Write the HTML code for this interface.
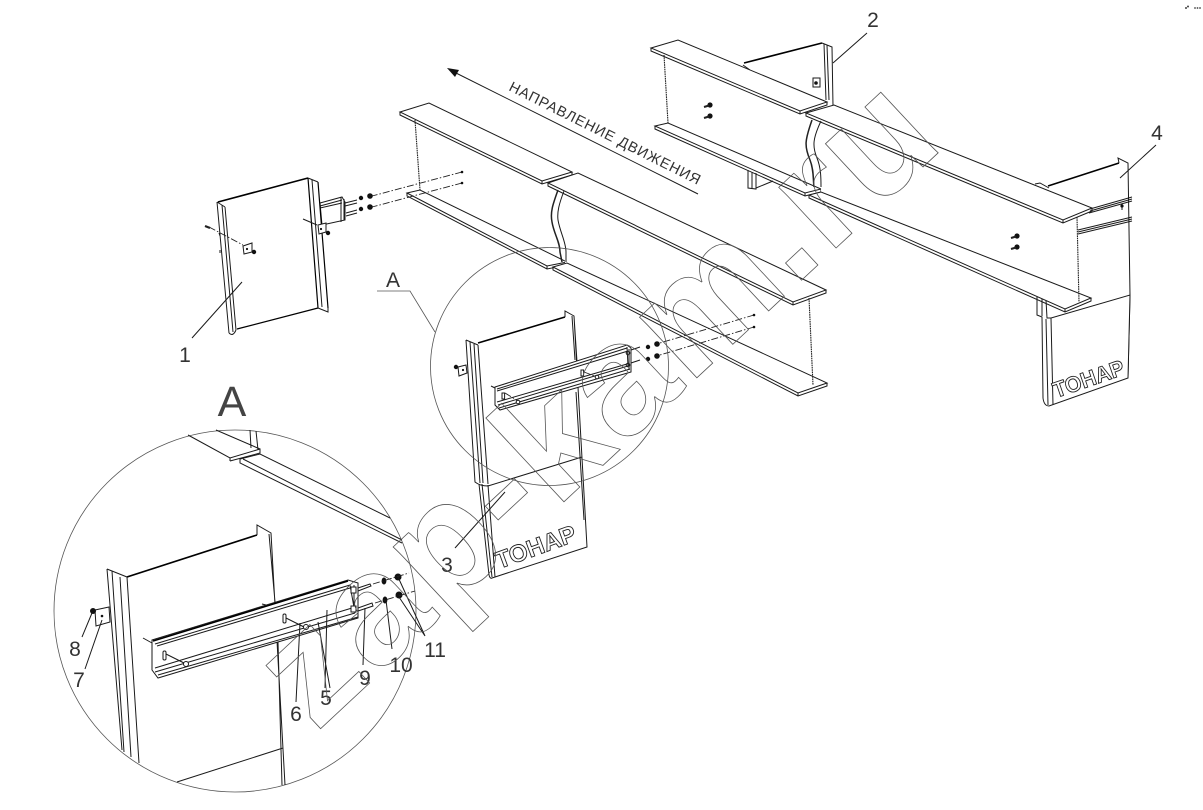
<!DOCTYPE html>
<html><head><meta charset="utf-8"><style>
html,body{margin:0;padding:0;background:#fff}
svg{display:block}
.l{fill:none;stroke:#1a1a1a;stroke-width:1}
.w{fill:#fff;stroke:#1a1a1a;stroke-width:1}
.b{fill:#fff;stroke:none}
.h{fill:none;stroke:#000;stroke-width:1.6}
.d{fill:none;stroke:#222;stroke-width:.9;stroke-dasharray:7 2 1.5 2}
.s{fill:none;stroke:#222;stroke-width:1.1;stroke-dasharray:1.6 .7}
.v{fill:none;stroke:#222;stroke-width:1.5}
.g{fill:none;stroke:#555;stroke-width:.8}
.n{fill:#111}
.t{font-family:"Liberation Sans",sans-serif;font-size:21px;fill:#333}
.m{font-family:"Liberation Sans",sans-serif;font-weight:bold;fill:#fff;stroke:#222;stroke-width:.9}
</style></head><body>
<svg width="1203" height="810" viewBox="0 0 1203 810" xmlns="http://www.w3.org/2000/svg">
<!-- panel 4 + mudflap (behind beam) -->
<path class="h" d="M1048 186L1119 163"/>
<path class="l" d="M1119 163L1118 158L1128 163L1130 295L1128 377M1035 184L1040 183L1049 188"/>
<path class="l" d="M1090 209L1132 197M1090 211L1132 199M1089 213L1132 201M1078 230L1132 217M1078 232L1132 219M1078 234L1132 221"/>
<path class="l" d="M1122 204V210"/><circle class="n" cx="1122" cy="206" r="1.6"/>
<path class="w" d="M1037 297L1037 315L1042 317L1043 398Q1044 406 1049 406L1128 378L1130 295L1051 318L1053 405M1042 299V316M1046 300L1047 318L1051 318M1046 319L1048 405"/>
<text class="m" font-size="22" transform="translate(1056 398) rotate(-19)" textLength="74" lengthAdjust="spacingAndGlyphs">ТОНАР</text>
<!-- rear panel 2 -->
<path class="h" d="M744 63L822 43"/>
<path class="l" d="M822 43L832 47L833 106M824 44L826 100M827 45L829 100M743 65L750 70"/>
<rect class="w" x="813" y="78" width="7" height="9"/><circle class="n" cx="816" cy="83" r="1.8"/>
<path class="w" d="M748 170V188L756 189V173M752 172V188M756 188L773 181"/>
<!-- beam 2 section A -->
<path class="b" d="M664 55L668 123L805 192L821 189L822 110L800 111Z"/>
<path class="w" d="M651 48L678 40L827 102L800 111Z"/>
<path class="l" d="M651 48V51L800 114L827 105V102M800 111V114"/>
<path class="s" d="M664 55L668 123"/>
<path class="w" d="M655 126L668 123L821 189L805 193Z"/>
<path class="l" d="M655 126V129L805 196L821 192V189M805 193V196"/>
<!-- beam 2 section B -->
<path class="b" d="M822 116L1077 217L1079 300L821 192Z"/>
<path class="w" d="M806 113L834 105L1092 208L1063 220Z"/>
<path class="l" d="M806 113V116L1063 223L1092 211V208M1063 220V223"/>
<path class="w" d="M809 195L821 192L1091 298L1065 309Z"/>
<path class="l" d="M809 195V198L1065 312L1091 301V298M1065 309V312"/>
<path class="s" d="M1077 217L1079 302"/>
<path class="v" d="M812 120C805 140 804 146 810 160C814 170 813 180 814 187"/>
<path class="l" d="M821 121C813 138 812 146 817 158C821 168 821 178 821 187"/>
<g class="n"><circle cx="710" cy="105" r="2.6"/><circle cx="710" cy="116" r="2.6"/><circle cx="1017" cy="236" r="2.6"/><circle cx="1017" cy="247" r="2.6"/></g>
<path class="v" style="stroke-width:2" d="M704 107L709 105.5M704 118L709 116.5M1011 238L1016 236.5M1011 249L1016 247.5"/>
<!-- beam 1 section A -->
<path class="b" d="M415 120L420 190L547 266L567 262L572 172L542 181Z"/>
<path class="w" d="M400 112L429 103L572 172L542 181Z"/>
<path class="l" d="M400 112V115L542 184L572 175V172M542 181V184"/>
<path class="s" d="M415 120L420 190"/>
<path class="w" d="M407 193L420 190L567 262L547 266Z"/>
<path class="l" d="M407 193V196L547 269L567 265V262M547 266V269"/>
<!-- beam 1 section B -->
<path class="b" d="M564 187L809 298L813 385L565 267Z"/>
<path class="w" d="M548 183L578 173L826 290L793 302Z"/>
<path class="l" d="M548 183V186L793 305L826 293V290M793 302V305"/>
<path class="w" d="M553 267L567 263L827 383L798 393Z"/>
<path class="l" d="M553 267V270L798 396L827 386V383M798 393V396"/>
<path class="s" d="M809 298L813 385"/>
<path class="v" d="M558 190C553 204 550 212 552 222C554 234 560 242 560 252L562 262"/>
<path class="l" d="M564 191C559 204 557 212 558 220C560 232 566 242 566 252V262"/>
<!-- dash-dot axes -->
<path class="d" d="M462 172L372 196M462 183L372 207"/>
<g class="n"><circle cx="462" cy="172" r="1.3"/><circle cx="462" cy="183" r="1.3"/><circle cx="361" cy="198" r="2.2"/><circle cx="370" cy="196" r="2.8"/><circle cx="361" cy="209" r="2.2"/><circle cx="370" cy="207" r="2.8"/></g>
<!-- panel 1 -->
<path class="h" d="M218 202L308 178"/>
<path class="w" d="M320 203L342 197L345 202L345 220L322 225Z"/>
<path class="l" d="M320 206L342 200M320 208L342 203M341 197V222M344 199V220M345 203L357 200M346 213L357 210M345 206L357 203M346 216L357 213"/>
<path class="l" d="M217 202L229 333M222 205L233 332M225 207L236 330M229 333Q233 337 236 330"/>
<path class="h" style="stroke-width:1.2" d="M237 329L318 308M308 178L318 308M318 182L328 308"/>
<path class="l" d="M312 180L322 307M308 178L318 182M318 308L328 312L328 308M217 202L225 207"/>
<path class="l" d="M303 219L317 225"/>
<path class="w" d="M318 225L326 223L326 232L319 234Z"/>
<circle class="n" cx="328" cy="233" r="2.2"/><circle class="n" cx="321" cy="229" r="1.1"/>
<path class="d" d="M209 227L243 245"/>
<path class="v" style="stroke-width:2.2" d="M205 226L210 228"/>
<path class="l" d="M219 233L220 236M220 250V253"/>
<path class="w" d="M243 246L252 243L252 252L244 254Z"/>
<circle class="n" cx="254" cy="252" r="2.2"/><circle class="n" cx="247" cy="249" r="1.1"/>
<path class="l" d="M242 282L192 338"/>
<!-- panel 3 -->
<path class="h" d="M478 343L565 317"/>
<path class="l" d="M466 340L478 345M565 317V311L574 316L577 362M572 316L575 360M466 340L475 482Q480 486 488 486L582 457M470 342L480 483M478 345L488 484M474 344L483 483M479 484L489 575M482 484L492 577M488 485L495 577M489 575Q490 579 492 578L587 547L574 316M576 392L584 520"/>
<path class="w" d="M458 367L466 365L467 373L459 376Z"/>
<circle class="n" cx="456" cy="367" r="2.2"/><circle class="n" cx="463" cy="370" r="1.1"/>
<path class="l" d="M491 386L495 388"/>
<path class="w" d="M495 387L627 345L631 348L631 372L500 410L495 405Z"/>
<path class="l" d="M497 389L627 348M497 391L628 351M499 408L630 369M498 405L628 366M497 402L627 364M627 347L628 366M629 349V370M631 350L640 347M631 363L640 360"/>
<circle class="l" cx="628" cy="353" r="1.8"/><circle class="l" cx="628" cy="365" r="1.8"/>
<rect class="w" x="502" y="393" width="2.6" height="6"/><rect class="w" x="581" y="370" width="2.6" height="6"/>
<path class="d" d="M505 393L518 401M584 372L597 377"/>
<circle class="w" cx="518" cy="402" r="1.8"/><circle class="w" cx="597" cy="377" r="1.8"/>
<path class="d" d="M754 315L660 343M754 327L660 355"/>
<g class="n"><circle cx="754" cy="315" r="1.3"/><circle cx="754" cy="327" r="1.3"/><circle cx="648" cy="347" r="2.2"/><circle cx="657" cy="344" r="2.8"/><circle cx="648" cy="359" r="2.2"/><circle cx="657" cy="356" r="2.8"/></g>
<text class="m" font-size="24" transform="translate(499 569) rotate(-20)" textLength="84" lengthAdjust="spacingAndGlyphs">ТОНАР</text>
<path class="l" d="M505 492L455 548"/>
<!-- circle A -->
<circle class="g" cx="549.5" cy="366.5" r="119"/>
<path class="g" d="M377 291H410L435 332"/>
<!-- arrow -->
<path class="l" d="M452 71L698 194"/>
<path d="M447 68L459 70L455 77Z" fill="#111"/>
<text transform="translate(508 90) rotate(26.6)" font-family="Liberation Sans, sans-serif" font-size="14.5" fill="#333" textLength="212">НАПРАВЛЕНИЕ ДВИЖЕНИЯ</text>
<!-- detail circle -->
<circle class="g" cx="235" cy="611" r="181"/>
<path class="l" d="M188 435L230 458L260 449V453L230 461M230 458V461M216 430L260 449"/>
<path class="l" d="M250 430L251 448M256 431L258 450"/>
<path class="l" d="M240 459L260 454L390 518M240 459V463L402 543M243 459L402 540"/>
<path class="h" d="M127 577L257 535"/>
<path class="l" d="M257 535V525L271 533L285 785M269 534L275 602M278 642L282 785M107 569L127 577M107 569L122 750M112 571L124 752M120 577L131 757M127 577L139 763M177 782L283 748"/>
<path class="w" d="M95 610L109 607L110 622L96 626Z"/>
<circle class="n" cx="93" cy="611" r="3"/><circle class="n" cx="102" cy="616" r="1.3"/>
<path class="l" d="M143 638L152 643M262 604L266 605"/>
<path class="w" d="M152 640L348 580L358 583L358 618L158 678L152 670Z"/>
<path class="h" d="M153 641L348 581"/>
<path class="l" d="M155 644L350 585M157 646L350 588M155 672L355 613M158 675L358 617M155 668L352 608M350 585L355 613M354 585V610M152 640V670M358 588L370 584L371 586L358 591M358 608L372 603L373 606L358 611"/>
<rect class="w" x="351" y="587" width="5" height="6"/><rect class="w" x="351" y="606" width="5" height="6"/>
<rect class="w" x="163" y="651" width="3" height="9" rx="1.4"/><rect class="w" x="283" y="614" width="3" height="9" rx="1.4"/>
<path class="l" d="M166 654L184 663M286 618L304 627"/>
<circle class="w" cx="186" cy="664" r="2.5"/><circle class="w" cx="306" cy="627" r="2.5"/>
<g class="n"><ellipse cx="384" cy="581" rx="2.4" ry="3.5"/><ellipse cx="385" cy="600" rx="2.4" ry="3.5"/><circle cx="398" cy="577" r="3.5"/><circle cx="399" cy="595" r="3.5"/></g>
<path class="d" d="M373 584L409 573M375 603L415 591"/>
<!-- leaders -->
<path class="l" d="M82 637L92 613M85 669L102 620M296 702L300 623M325 688L327 610M330 688L318 622M363 665L365 608M392 649L386 600M425 636L399 597M425 636L398 577"/>
<path class="l" d="M833 63L867 33M1120 178L1156 145"/>
<!-- labels -->
<text class="t" x="873" y="27" text-anchor="middle">2</text>
<text class="t" x="1157" y="140" text-anchor="middle">4</text>
<text class="t" x="185" y="362" text-anchor="middle">1</text>
<text class="t" x="393" y="287" text-anchor="middle">A</text>
<text class="t" x="447" y="572" text-anchor="middle">3</text>
<text class="t" x="75" y="656" text-anchor="middle">8</text>
<text class="t" x="79" y="687" text-anchor="middle">7</text>
<text class="t" x="296" y="721" text-anchor="middle">6</text>
<text class="t" x="326" y="705" text-anchor="middle">5</text>
<text class="t" x="365" y="685" text-anchor="middle">9</text>
<text class="t" x="401" y="672" text-anchor="middle">10</text>
<text class="t" x="435" y="657" text-anchor="middle">11</text>
<text x="232" y="416" text-anchor="middle" font-family="Liberation Sans, sans-serif" font-size="43" fill="#444">A</text>
<!-- corner dots -->
<g fill="#444"><circle cx="1186" cy="8" r="1"/><circle cx="1188" cy="6.5" r="1"/><circle cx="1195" cy="8" r=".9"/><circle cx="1197.5" cy="8" r=".9"/><circle cx="1200" cy="8" r=".9"/></g>
<!-- watermark -->
<text transform="translate(316 733) rotate(-43)" font-family="Liberation Sans, sans-serif" font-weight="bold" font-size="158" letter-spacing="3" fill="none" stroke="#555" stroke-width=".8">zap-kam.ru</text>
</svg>
</body></html>
